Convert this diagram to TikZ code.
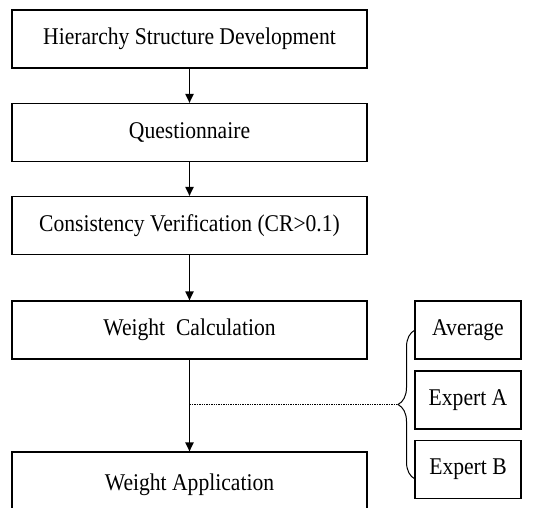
\documentclass[tikz,border=0pt]{standalone}
\usepackage{fontspec}
\setmainfont{Liberation Serif}[FakeStretch=0.9]
\usetikzlibrary{arrows.meta,decorations.pathreplacing}

\begin{document}
\begin{tikzpicture}[x=1pt,y=-1pt,
  procbox/.style={draw, line width=1.1pt, minimum width=355pt, minimum height=58pt, inner sep=0pt, font=\fontsize{24}{28}\selectfont},
  sidebox/.style={draw, line width=1.1pt, minimum width=106pt, minimum height=58pt, inner sep=0pt, font=\fontsize{24}{28}\selectfont},
  flow/.style={line width=1.8pt, -{Triangle[width=8pt,length=9pt]}}]
\useasboundingbox (0,0) rectangle (548,507);
\node[procbox] (hsd) at (189.5,39) {Hierarchy Structure Development};
\node[procbox] (quest) at (189.5,132.5) {Questionnaire};
\node[procbox] (consist) at (189.5,225.5) {Consistency Verification (CR>0.1)};
\node[procbox] (wcalc) at (189.5,330) {Weight\ \ Calculation};
\node[procbox, minimum height=66pt] (wapp) at (189.5,485) {Weight Application};
\node[sidebox] (avg) at (468,330) {Average};
\node[sidebox] (expa) at (468,400) {Expert A};
\node[sidebox] (expb) at (468,469.5) {Expert B};
\draw[flow] (hsd) -- (quest);
\draw[flow] (quest) -- (consist);
\draw[flow] (consist) -- (wcalc);
\draw[flow] (wcalc) -- (wapp);
\coordinate (braceBot) at (415,479);
\coordinate (braceTop) at (415,330);
\coordinate (braceTip) at (398,404.5);
\coordinate (joint) at (189.5,404.5);
\draw[line width=1pt, decorate, decoration={brace, amplitude=17pt}] (braceBot) -- (braceTop);
\draw[densely dotted, line width=1.4pt] (joint) -- (braceTip);
\end{tikzpicture}
\end{document}
